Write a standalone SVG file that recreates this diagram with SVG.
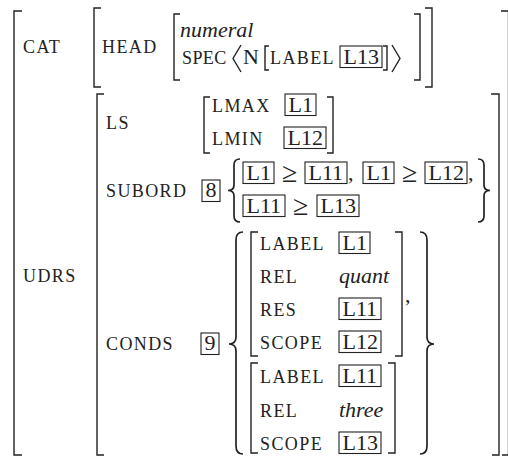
<svg xmlns="http://www.w3.org/2000/svg" width="508" height="460" viewBox="0 0 508 460">
<style>
.k{font-family:"Liberation Serif",serif;font-size:18px;letter-spacing:1.4px;fill:#222}
.t{font-family:"Liberation Serif",serif;font-size:22px;fill:#222}
.g{font-family:"Liberation Serif",serif;font-size:28px;fill:#222}
.i{font-family:"Liberation Serif",serif;font-size:22px;font-style:italic;fill:#222}
.br{fill:none;stroke:#222;stroke-width:1.4}
.bc{fill:none;stroke:#222;stroke-width:1.7}
.bx{fill:none;stroke:#222;stroke-width:1.1}
</style>
<rect width="508" height="460" fill="#fff"/>
<g id="outer">
<path class="br" d="M22,11 H14 V455 H22"/>
<path class="br" d="M501,11 H508.5 V455 H502"/>
<text class="k" x="23" y="53">CAT</text>
<text class="k" x="23" y="282">UDRS</text>
</g>
<g id="cat">
<path class="br" d="M101,8 H94 V87 H101"/>
<path class="br" d="M425,8 H432 V87 H425"/>
<text class="k" x="102" y="53">HEAD</text>
<path class="br" d="M180,14 H174 V80 H180"/>
<path class="br" d="M414,14 H420 V80 H414"/>
<text class="i" x="180" y="37">numeral</text>
<text class="k" x="182" y="64" style="letter-spacing:0.4px">SPEC</text>
<path class="br" d="M241,45 L233,58.5 L241,72"/>
<text class="t" x="243" y="64">N</text>
<path class="br" d="M269,46 H265 V70 H269"/>
<text class="k" x="270" y="64">LABEL</text>
<rect class="bx" x="340" y="46" width="42" height="21.5"/>
<text class="t" x="343.5" y="64">L13</text>
<path class="br" d="M383,46 H387 V70 H383"/>
<path class="br" d="M392,45 L400,58.5 L392,72"/>
</g>
<g id="udrs">
<path class="br" d="M104,94 H97 V455 H104"/>
<path class="br" d="M491,94 H499 V455 H492"/>
</g>
<g id="ls">
<text class="k" x="106" y="129">LS</text>
<path class="br" d="M210,97 H204 V153 H210"/>
<path class="br" d="M327,97 H333 V153 H327"/>
<text class="k" x="212" y="112">LMAX</text>
<rect class="bx" x="285" y="94" width="31" height="21.5"/>
<text class="t" x="288.5" y="112">L1</text>
<text class="k" x="212" y="145">LMIN</text>
<rect class="bx" x="284" y="127" width="42" height="21.5"/>
<text class="t" x="287.5" y="145">L12</text>
</g>
<g id="subord">
<text class="k" x="106" y="197">SUBORD</text>
<rect class="bx" x="202" y="180" width="18" height="21.5"/>
<text class="t" x="205.5" y="197">8</text>
<path class="bc" d="M240,159 Q234,159 234,165 L234,185 Q234,190.5 228,190.5 Q234,190.5 234,196 L234,216 Q234,222 240,222"/>
<rect class="bx" x="243" y="162" width="31" height="21.5"/>
<text class="t" x="246.5" y="180">L1</text>
<text class="g" x="282" y="182">≥</text>
<rect class="bx" x="305" y="162" width="42" height="21.5"/>
<text class="t" x="308.5" y="180">L11</text>
<text class="t" x="348" y="180">,</text>
<rect class="bx" x="363" y="162" width="31" height="21.5"/>
<text class="t" x="366.5" y="180">L1</text>
<text class="g" x="402" y="182">≥</text>
<rect class="bx" x="425" y="162" width="42" height="21.5"/>
<text class="t" x="428.5" y="180">L12</text>
<text class="t" x="468" y="180">,</text>
<rect class="bx" x="243" y="195" width="42" height="21.5"/>
<text class="t" x="246.5" y="213">L11</text>
<text class="g" x="293" y="215">≥</text>
<rect class="bx" x="317" y="195" width="42" height="21.5"/>
<text class="t" x="320.5" y="213">L13</text>
<path class="bc" d="M478,159 Q484,159 484,165 L484,185 Q484,190.5 490,190.5 Q484,190.5 484,196 L484,216 Q484,222 478,222"/>
</g>
<g id="conds">
<text class="k" x="106" y="350">CONDS</text>
<rect class="bx" x="201" y="333" width="18" height="21.5"/>
<text class="t" x="204.5" y="350">9</text>
<path class="bc" d="M243,232 Q236,232 236,240 L236,337 Q236,344 229,344 Q236,344 236,351 L236,446 Q236,454 243,454"/>
<path class="bc" d="M420,232 Q427,232 427,240 L427,337 Q427,344 434,344 Q427,344 427,351 L427,446 Q427,454 420,454"/>
</g>
<g id="avm1">
<path class="br" d="M258,232 H251 V356 H258"/>
<path class="br" d="M395,232 H402 V356 H395"/>
<text class="k" x="260" y="250">LABEL</text>
<rect class="bx" x="339" y="232" width="31" height="21.5"/>
<text class="t" x="342.5" y="250">L1</text>
<text class="k" x="260" y="283">REL</text>
<text class="i" x="339" y="283">quant</text>
<text class="k" x="260" y="316">RES</text>
<rect class="bx" x="339" y="298" width="42" height="21.5"/>
<text class="t" x="342.5" y="316">L11</text>
<text class="k" x="260" y="349">SCOPE</text>
<rect class="bx" x="339" y="331" width="42" height="21.5"/>
<text class="t" x="342.5" y="349">L12</text>
<text class="t" x="405" y="302">,</text>
</g>
<g id="avm2">
<path class="br" d="M258,363 H251 V453 H258"/>
<path class="br" d="M388,363 H395 V453 H388"/>
<text class="k" x="260" y="383">LABEL</text>
<rect class="bx" x="339" y="365" width="42" height="21.5"/>
<text class="t" x="342.5" y="383">L11</text>
<text class="k" x="260" y="417">REL</text>
<text class="i" x="339" y="417">three</text>
<text class="k" x="260" y="450">SCOPE</text>
<rect class="bx" x="339" y="432" width="42" height="21.5"/>
<text class="t" x="342.5" y="450">L13</text>
</g>
</svg>
